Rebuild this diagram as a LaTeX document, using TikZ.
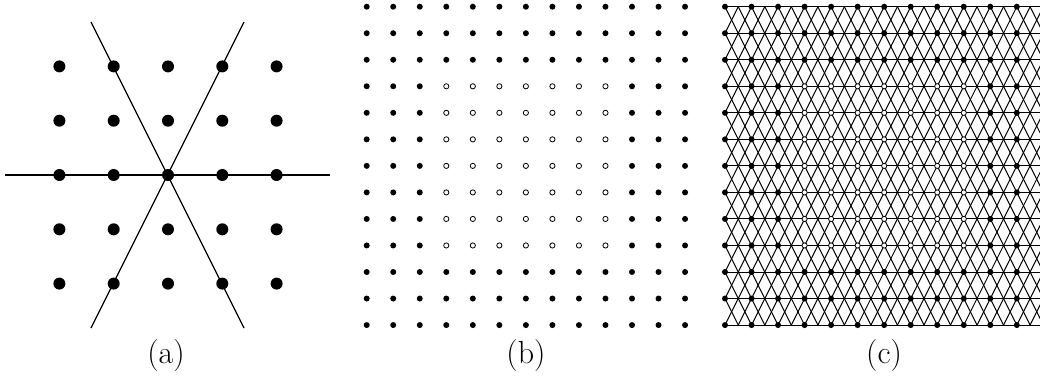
\documentclass[tikz,border=0pt]{standalone}
\begin{document}
\begin{tikzpicture}[x=0.5pt,y=-0.5pt,
  bigdot/.style={fill=black},
  smalldot/.style={fill=black},
  opendot/.style={fill=white,draw=black,line width=0.4pt},
  axisline/.style={line width=0.6pt},
  meshline/.style={line width=0.5pt},
  caption/.style={anchor=base,inner sep=0pt,font=\fontsize{16}{19}\selectfont}]
\useasboundingbox (0,0) rectangle (1040,376);
% ---------- panel (a) ----------
\draw[axisline] (5,175) -- (330,175);
\draw[axisline] (91,22) -- (244,328);
\draw[axisline] (244,22) -- (91,328);
\foreach \i in {-2,...,2}
  \foreach \j in {-2,...,2}
    \fill[bigdot] ({168+54.3*\i},{175+54.3*\j}) circle[radius=3pt];
% ---------- panel (b) ----------
\foreach \i in {0,...,12}
  \foreach \j in {0,...,12}{
    \pgfmathtruncatemacro\inner{and(and(\i>2,\i<10),and(\j>2,\j<10))}
    \ifnum\inner=1
      \draw[opendot] ({366.7+26.53*\i},{6.7+26.53*\j}) circle[radius=1.3pt];
    \else
      \fill[smalldot] ({366.7+26.53*\i},{6.7+26.53*\j}) circle[radius=1.5pt];
    \fi
  }
% ---------- panel (c) ----------
\begin{scope}[x=13.265pt,y=-13.265pt,shift={(362.5pt,-3.35pt)}]
  \begin{scope}
    \clip (0,0) rectangle (12,12);
    \foreach \j in {0,...,12}
      \draw[meshline] (0,\j) -- (12,\j);
    \foreach \a in {-12,...,36}{
      \draw[meshline] ({\a/2},0) -- ({\a/2+6},12);
      \draw[meshline] ({\a/2},0) -- ({\a/2-6},12);
    }
  \end{scope}
  \foreach \i in {0,...,12}
    \foreach \j in {0,...,12}{
      \pgfmathtruncatemacro\inner{and(and(\i>2,\i<10),and(\j>2,\j<10))}
      \ifnum\inner=1
        \draw[opendot] (\i,\j) circle[radius=1.3pt];
      \else
        \fill[smalldot] (\i,\j) circle[radius=1.5pt];
      \fi
    }
\end{scope}
% ---------- captions ----------
\node[caption] (capa) at (166,363) {(a)};
\node[caption] (capb) at (526,363) {(b)};
\node[caption] (capc) at (884,363) {(c)};
\end{tikzpicture}
\end{document}
